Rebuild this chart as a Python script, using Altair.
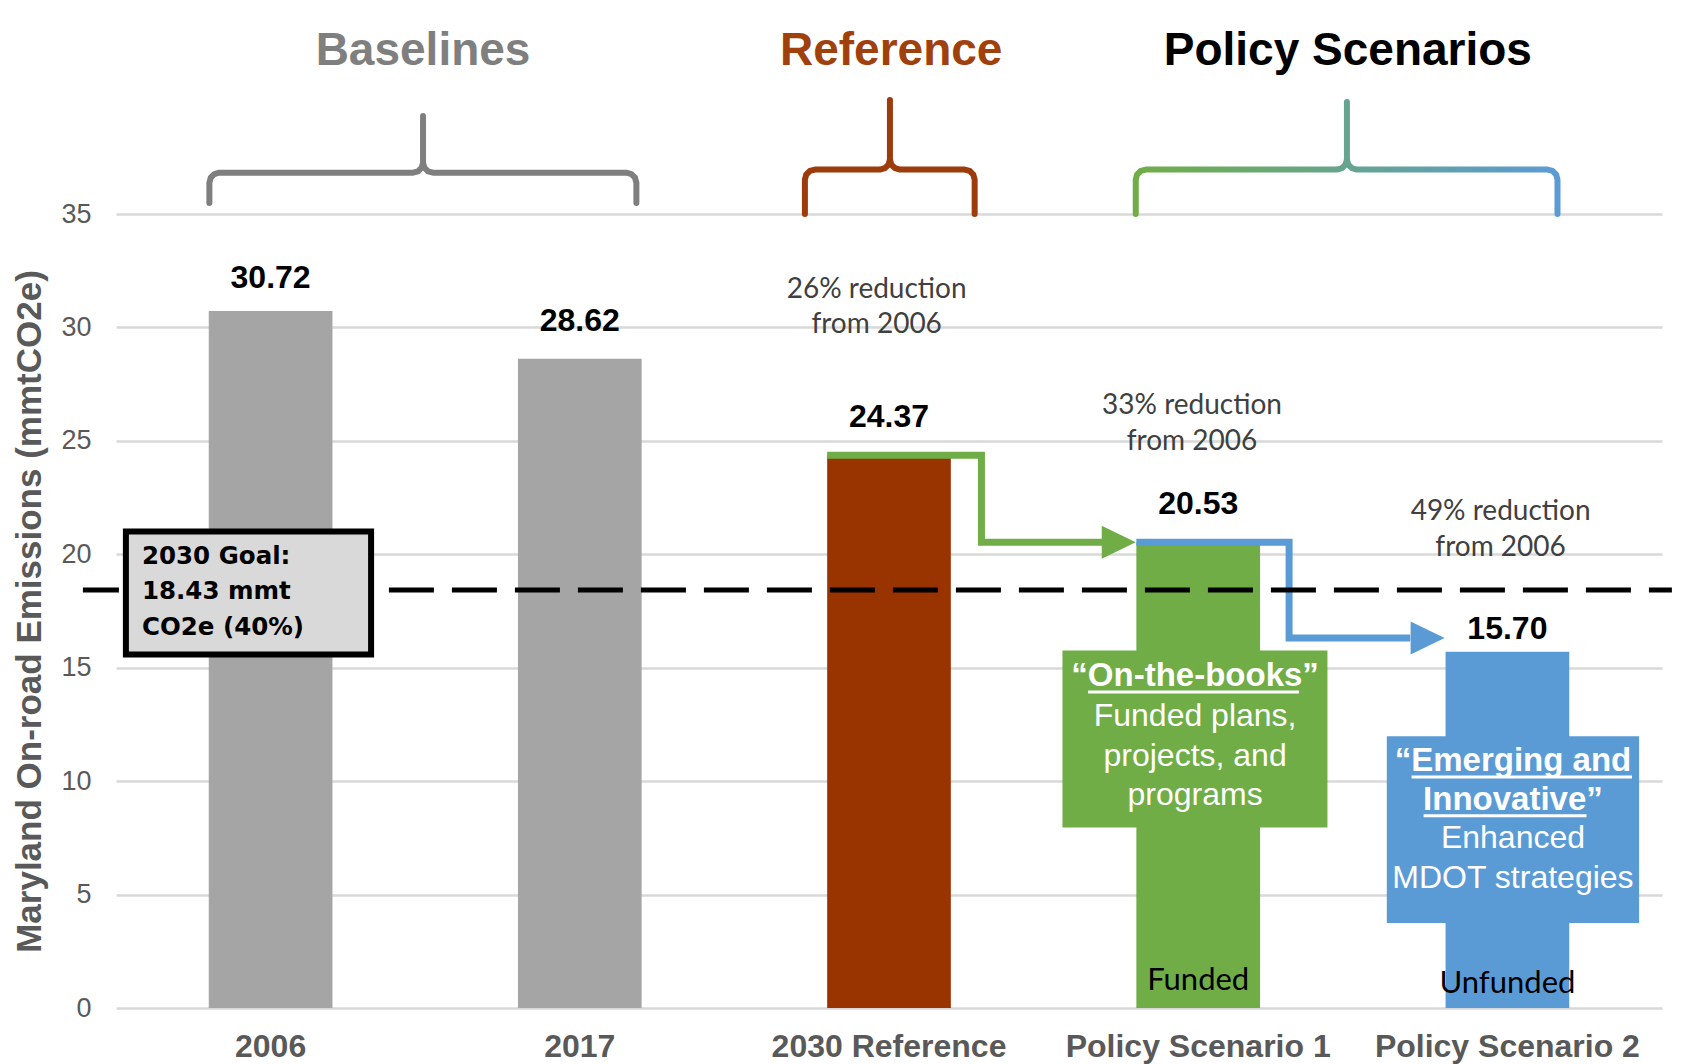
import math
import altair as alt
import pandas as pd

# ---- chart values --------------------------------------------------------
categories = ["2006", "2017", "2030 Reference", "Policy Scenario 1", "Policy Scenario 2"]
emissions = [30.72, 28.62, 24.37, 20.53, 15.70]
bar_colors = ["#A5A5A5", "#A5A5A5", "#993300", "#70AD47", "#5B9BD5"]
y_ticks = [0, 5, 10, 15, 20, 25, 30, 35]

goal_value = 18.43
goal_lines = ["2030 Goal:", "18.43 mmt", "CO2e (40%)"]

group_titles = ["Baselines", "Reference", "Policy Scenarios"]
group_colors = ["#7F7F7F", "#A0410D", "#000000"]

reduction_lines = ["26% reduction", "33% reduction", "49% reduction"]
reduction_base = "from 2006"

funding_labels = ["Funded", "Unfunded"]
on_books_lines = ["\u201cOn-the-books\u201d", "Funded plans,", "projects, and", "programs"]
emerging_lines = ["\u201cEmerging and", "Innovative\u201d", "Enhanced", "MDOT strategies"]

# ---- layout helpers --------------------------------------------------------
W, H = 1546, 794
STEP_PX = W / 5.0          # one category slot, in pixels
UNIT_PX = H / 35.0         # one mmtCO2e, in pixels
ARIAL = "Liberation Sans"
CALIBRI = "Lato"
GRAY_TXT = "#595959"

Y_SCALE = alt.Scale(domain=[0, 35], nice=False, zero=True)
XQ_SCALE = alt.Scale(domain=[0, 5], nice=False, zero=False)

# one shared y axis definition, reused by every layer so the merged axis stays intact
Y_AXIS = alt.Axis(
    values=y_ticks, title="Maryland On-road Emissions (mmtCO2e)",
    titleFont=ARIAL, titleFontSize=35, titleFontWeight="bold",
    titleColor=GRAY_TXT, titlePadding=13,
    labelFont=ARIAL, labelFontSize=27, labelColor=GRAY_TXT,
    labelPadding=25, ticks=False, tickSize=0, domain=False,
    grid=True, gridColor="#D9D9D9", gridWidth=2.5,
)


def xq(field):
    return alt.X(f"{field}:Q", scale=XQ_SCALE, axis=None)


def yq(field):
    return alt.Y(f"{field}:Q", scale=Y_SCALE, axis=Y_AXIS)


def text_layer(rows, size, color, font=ARIAL, weight="normal", align="center"):
    df = pd.DataFrame(rows, columns=["t", "tx", "ty"])
    return alt.Chart(df).mark_text(
        font=font, fontSize=size, fontWeight=weight, color=color,
        align=align, baseline="middle"
    ).encode(x=xq("tx"), y=yq("ty"), text="t:N")


def brace_frame(x0, x1, xc, y_end, y_bar, y_top, r_px=10):
    rx, ry = r_px / STEP_PX, r_px / UNIT_PX
    pts = [(x0, y_end)]
    for a in (180, 150, 120, 90):
        r = math.radians(a)
        pts.append((x0 + rx + rx * math.cos(r), y_bar - ry + ry * math.sin(r)))
    for a in (270, 300, 330, 360):
        r = math.radians(a)
        pts.append((xc - rx + rx * math.cos(r), y_bar + ry + ry * math.sin(r)))
    pts.append((xc, y_top))
    for a in (180, 210, 240, 270):
        r = math.radians(a)
        pts.append((xc + rx + rx * math.cos(r), y_bar + ry + ry * math.sin(r)))
    for a in (90, 60, 30, 0):
        r = math.radians(a)
        pts.append((x1 - rx + rx * math.cos(r), y_bar - ry + ry * math.sin(r)))
    pts.append((x1, y_end))
    return pd.DataFrame({"bx": [p[0] for p in pts], "by": [p[1] for p in pts],
                         "k": list(range(len(pts)))})


def brace_layer(frame, stroke):
    return alt.Chart(frame).mark_line(
        stroke=stroke, strokeWidth=6, strokeJoin="round", strokeCap="round"
    ).encode(x=xq("bx"), y=yq("by"), order="k:Q")


# ---- bars, value labels and category axis ---------------------------------
bars_df = pd.DataFrame({
    "category": categories,
    "value": emissions,
    "color": bar_colors,
    "label": [f"{v:.2f}" for v in emissions],
})

x_band = alt.X(
    "category:N", sort=categories,
    scale=alt.Scale(paddingInner=0.6, paddingOuter=0.3),
    axis=alt.Axis(title=None, labelAngle=0, labelFont=ARIAL, labelFontSize=32,
                  labelFontWeight="bold", labelColor=GRAY_TXT, labelPadding=23,
                  labelLimit=600, ticks=False, tickSize=0, domain=False, grid=False),
)

bars = alt.Chart(bars_df).mark_bar().encode(
    x=x_band, y=yq("value"), color=alt.Color("color:N", scale=None)
)
value_labels_first = alt.Chart(bars_df.iloc[:1]).mark_text(
    font=ARIAL, fontSize=32, fontWeight="bold", color="#000000",
    baseline="middle", dy=-33
).encode(x=x_band, y=yq("value"), text="label:N")
value_labels_mid = alt.Chart(bars_df.iloc[1:4]).mark_text(
    font=ARIAL, fontSize=32, fontWeight="bold", color="#000000",
    baseline="middle", dy=-38
).encode(x=x_band, y=yq("value"), text="label:N")
value_labels_last = alt.Chart(bars_df.iloc[4:]).mark_text(
    font=ARIAL, fontSize=32, fontWeight="bold", color="#000000",
    baseline="middle", dy=-23
).encode(x=x_band, y=yq("value"), text="label:N")

funding_df = pd.DataFrame({"category": categories[3:], "t": funding_labels, "ty": [1.19, 1.07]})
funding_text = alt.Chart(funding_df).mark_text(
    font=CALIBRI, fontSize=31, color="#000000", baseline="middle"
).encode(x=x_band, y=yq("ty"), text="t:N")

bar_layer = alt.layer(bars, value_labels_first, value_labels_mid, value_labels_last, funding_text)

# ---- group braces and titles ----------------------------------------------
policy_gradient = alt.LinearGradient(
    gradient="linear", x1=0, x2=1, y1=0, y2=0,
    stops=[alt.GradientStop(color="#70AD47", offset=0),
           alt.GradientStop(color="#5B9BD5", offset=1)],
)
braces = [
    brace_layer(brace_frame(0.302, 1.683, 0.993, 35.48, 36.82, 39.32), "#7F7F7F"),
    brace_layer(brace_frame(2.228, 2.777, 2.503, 35.0, 36.96, 40.03), "#9C3B0C"),
    brace_layer(brace_frame(3.298, 4.662, 3.981, 35.0, 36.96, 39.94), policy_gradient),
]
titles = [
    text_layer([(group_titles[0], 0.993, 42.2)], 46, group_colors[0], weight="bold"),
    text_layer([(group_titles[1], 2.507, 42.2)], 46, group_colors[1], weight="bold"),
    text_layer([(group_titles[2], 3.984, 42.2)], 46, group_colors[2], weight="bold"),
]

# ---- reduction notes --------------------------------------------------------
notes = text_layer([
    (reduction_lines[0], 2.46, 31.67), (reduction_base, 2.46, 30.12),
    (reduction_lines[1], 3.48, 26.55), (reduction_base, 3.48, 24.95),
    (reduction_lines[2], 4.478, 21.86), (reduction_base, 4.478, 20.26),
], 28, "#404040", font=CALIBRI)

# ---- step arrows between scenarios ---------------------------------------
ARROW_PATH = "M-1,-0.97L1,0L-1,0.97Z"
green_path = pd.DataFrame({"px": [2.3, 2.799, 2.799, 3.19],
                           "py": [emissions[2], emissions[2], emissions[3], emissions[3]],
                           "k": [0, 1, 2, 3]})
blue_level = 16.31
blue_path = pd.DataFrame({"px": [3.3, 3.794, 3.794, 4.186],
                          "py": [emissions[3], emissions[3], blue_level, blue_level],
                          "k": [0, 1, 2, 3]})
green_arrow = alt.Chart(green_path).mark_line(
    color="#70AD47", strokeWidth=7, strokeJoin="miter", strokeCap="butt"
).encode(x=xq("px"), y=yq("py"), order="k:Q")
blue_arrow = alt.Chart(blue_path).mark_line(
    color="#5B9BD5", strokeWidth=7, strokeJoin="miter", strokeCap="butt"
).encode(x=xq("px"), y=yq("py"), order="k:Q")
heads_df = pd.DataFrame({"hx": [3.243, 4.242], "hy": [emissions[3], blue_level],
                         "c": ["#70AD47", "#5B9BD5"]})
arrow_heads = alt.Chart(heads_df).mark_point(
    shape=ARROW_PATH, size=1156, filled=True, opacity=1, strokeWidth=0
).encode(x=xq("hx"), y=yq("hy"), color=alt.Color("c:N", scale=None))

# ---- 2030 goal line and its label box ---------------------------------------
goal_df = pd.DataFrame({"gx": [-0.107], "gx2": [5.032], "gy": [goal_value]})
goal_line = alt.Chart(goal_df).mark_rule(
    color="#000000", strokeWidth=5, strokeDash=[45, 18], strokeDashOffset=9
).encode(x=xq("gx"), x2="gx2:Q", y=yq("gy"))

goal_box_df = pd.DataFrame({"x0": [0.032], "x1": [0.825], "y0": [15.58], "y1": [21.0]})
goal_box = alt.Chart(goal_box_df).mark_rect(
    fill="#D9D9D9", stroke="#000000", strokeWidth=6
).encode(x=xq("x0"), x2="x1:Q", y=yq("y0"), y2="y1:Q")
goal_text = text_layer([
    (goal_lines[0], 0.084, 19.86), (goal_lines[1], 0.084, 18.32), (goal_lines[2], 0.084, 16.77),
], 24.5, "#000000", font="DejaVu Sans", weight="bold", align="left")

# ---- scenario call-outs ------------------------------------------------------
callout_df = pd.DataFrame({"x0": [3.061, 4.110], "x1": [3.918, 4.926],
                           "y0": [7.96, 3.75], "y1": [15.76, 11.98],
                           "c": ["#70AD47", "#5B9BD5"]})
callouts = alt.Chart(callout_df).mark_rect().encode(
    x=xq("x0"), x2="x1:Q", y=yq("y0"), y2="y1:Q", color=alt.Color("c:N", scale=None)
)
callout_bold = text_layer([
    (on_books_lines[0], 3.49, 14.63),
    (emerging_lines[0], 4.518, 10.89), (emerging_lines[1], 4.518, 9.17),
], 33, "#FFFFFF", weight="bold")
callout_plain = text_layer([
    (on_books_lines[1], 3.49, 12.87), (on_books_lines[2], 3.49, 11.13), (on_books_lines[3], 3.49, 9.39),
    (emerging_lines[2], 4.518, 7.49), (emerging_lines[3], 4.518, 5.73),
], 32, "#FFFFFF")
underline_df = pd.DataFrame({"ux": [3.144, 4.190, 4.229], "ux2": [3.826, 4.903, 4.756],
                             "uy": [13.93, 10.18, 8.48]})
underlines = alt.Chart(underline_df).mark_rule(color="#FFFFFF", strokeWidth=3).encode(
    x=xq("ux"), x2="ux2:Q", y=yq("uy")
)

annot_layer = alt.layer(
    *braces, *titles, notes,
    green_arrow, blue_arrow, arrow_heads,
    goal_line, goal_box, goal_text,
    callouts, callout_bold, callout_plain, underlines,
)

chart = (
    alt.layer(bar_layer, annot_layer)
    .resolve_scale(x="independent")
    .properties(
        width=W, height=H,
        padding={"left": 116, "top": 214, "right": 21, "bottom": 56},
        autosize=alt.AutoSizeParams(type="none"),
        background="#FFFFFF",
    )
    .configure_view(stroke=None)
)

chart.save("out.html", embed_options={"renderer": "svg", "actions": False})
